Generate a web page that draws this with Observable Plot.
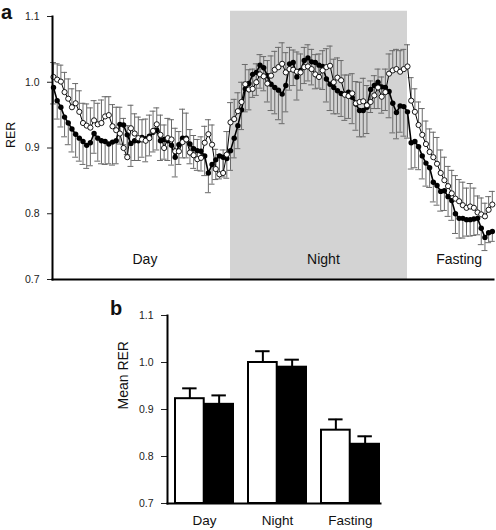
<!DOCTYPE html>
<html><head><meta charset="utf-8">
<script src="https://cdn.jsdelivr.net/npm/d3@7"></script>
<script src="https://cdn.jsdelivr.net/npm/@observablehq/plot@0.6"></script>
<style>
html,body{margin:0;padding:0;background:#fff;}
#wrap{position:relative;width:496px;height:530px;font-family:"Liberation Sans",Arial,Helvetica,sans-serif;color:#111;}
#pa{position:absolute;left:0;top:0;}
#pb{position:absolute;left:0;top:290px;}
.lbl{position:absolute;font-weight:bold;font-size:20px;line-height:12px;}
</style></head><body>
<div id="wrap"><div id="pa"></div><div id="pb"></div>
<div class="lbl" style="left:1px;top:5.5px">a</div>
<div class="lbl" style="left:110px;top:302px">b</div>
</div>
<script>
// ---------- Panel a data (15-min samples) ----------
const sampleHours = 0.25;
const openRER = [
1.008,1.004,1.001,0.985,0.975,0.962,0.968,0.955,0.938,0.934,0.931,0.942,0.936,0.938,0.948,0.950,0.933,0.927,0.922,0.900,
0.886,0.930,0.922,0.915,0.913,0.911,0.915,0.926,0.936,0.920,0.900,0.915,0.913,0.895,0.895,0.909,0.913,0.893,0.889,0.883,
0.885,0.908,0.921,0.905,0.868,0.860,0.862,0.890,0.939,0.944,0.956,0.970,0.997,0.989,0.990,1.000,1.012,1.009,0.998,1.010,
1.019,1.023,1.028,1.015,1.020,1.019,1.016,1.015,1.023,1.024,1.020,1.012,1.008,1.018,1.023,1.025,1.000,1.007,1.003,0.981,
0.979,0.983,0.968,0.970,0.971,0.965,0.970,0.980,0.992,0.978,0.985,1.013,1.018,1.020,1.016,1.020,1.024,0.972,0.955,0.935,
0.920,0.906,0.894,0.886,0.876,0.862,0.851,0.842,0.831,0.823,0.819,0.813,0.809,0.811,0.809,0.802,0.799,0.796,0.806,0.814];
const filledRER = [
0.992,0.972,0.962,0.947,0.938,0.929,0.921,0.915,0.910,0.904,0.908,0.922,0.915,0.911,0.910,0.906,0.909,0.911,0.936,0.935,
0.920,0.907,0.911,0.911,0.916,0.914,0.918,0.924,0.927,0.911,0.913,0.911,0.904,0.886,0.905,0.915,0.915,0.906,0.899,0.896,
0.895,0.888,0.862,0.875,0.882,0.888,0.886,0.884,0.896,0.915,0.934,0.958,0.990,0.998,1.012,1.015,1.026,1.022,1.010,0.997,
0.992,0.988,0.982,0.995,1.028,1.030,1.008,1.018,1.033,1.037,1.031,1.030,1.026,1.024,1.005,0.997,0.992,0.987,0.983,0.982,
0.985,0.977,0.967,0.957,0.957,0.962,0.989,0.995,1.000,0.993,0.992,0.986,0.968,0.954,0.964,0.963,0.955,0.908,0.910,0.902,
0.888,0.877,0.870,0.848,0.843,0.834,0.835,0.826,0.820,0.800,0.793,0.793,0.791,0.791,0.792,0.793,0.778,0.764,0.771,0.773];
const openSEM = [
0.022,0.024,0.025,0.030,0.030,0.028,0.030,0.032,0.030,0.033,0.030,0.030,0.032,0.035,0.030,0.028,0.033,0.035,0.040,0.045,
0.048,0.035,0.030,0.032,0.030,0.033,0.035,0.030,0.025,0.030,0.035,0.030,0.030,0.035,0.030,0.050,0.040,0.035,0.030,0.030,
0.032,0.025,0.022,0.030,0.030,0.030,0.035,0.035,0.030,0.030,0.028,0.030,0.030,0.030,0.030,0.028,0.030,0.030,0.035,0.030,
0.028,0.030,0.032,0.030,0.033,0.030,0.030,0.028,0.030,0.033,0.030,0.030,0.035,0.030,0.028,0.030,0.035,0.030,0.030,0.030,
0.032,0.030,0.033,0.030,0.035,0.030,0.032,0.030,0.028,0.030,0.035,0.030,0.030,0.030,0.032,0.030,0.033,0.035,0.035,0.035,
0.040,0.035,0.035,0.038,0.040,0.035,0.035,0.030,0.035,0.035,0.033,0.035,0.030,0.035,0.030,0.025,0.025,0.020,0.020,0.020];
const filledSEM = [
0.025,0.028,0.030,0.030,0.033,0.035,0.035,0.035,0.035,0.035,0.035,0.030,0.035,0.035,0.035,0.030,0.035,0.035,0.030,0.030,
0.030,0.035,0.030,0.030,0.030,0.035,0.030,0.030,0.030,0.030,0.030,0.030,0.030,0.030,0.030,0.030,0.030,0.030,0.030,0.030,
0.030,0.030,0.030,0.030,0.030,0.035,0.030,0.030,0.030,0.030,0.035,0.030,0.035,0.040,0.035,0.035,0.035,0.035,0.040,0.040,
0.040,0.045,0.045,0.040,0.040,0.035,0.035,0.030,0.035,0.035,0.035,0.040,0.035,0.035,0.035,0.040,0.040,0.035,0.035,0.040,
0.040,0.040,0.040,0.040,0.040,0.040,0.035,0.035,0.040,0.040,0.035,0.040,0.045,0.040,0.040,0.045,0.040,0.040,0.040,0.035,
0.035,0.035,0.030,0.030,0.030,0.030,0.030,0.030,0.030,0.030,0.030,0.030,0.025,0.025,0.025,0.025,0.025,0.020,0.015,0.015];
const periods = [
  {name:"Day", start:0, end:12, labelAt:6.2},
  {name:"Night", start:12, end:24, labelAt:18.3},
  {name:"Fasting", start:24, end:30, labelAt:27.5}
];
const shadedPeriod = "Night";
const yTicksA = [0.7, 0.8, 0.9, 1.0, 1.1];
const yLabelA = "RER";

// ---------- Panel b data ----------
const barCategories = ["Day", "Night", "Fasting"];
const meanOpen = [0.923, 1.000, 0.856];
const meanFilled = [0.911, 0.990, 0.826];
const semMeanOpen = [0.022, 0.024, 0.023];
const semMeanFilled = [0.019, 0.016, 0.017];
const yTicksB = [0.7, 0.8, 0.9, 1.0, 1.1];
const yLabelB = "Mean RER";

const FONT = '"Liberation Sans", Arial, Helvetica, sans-serif';

// ---------- Panel a ----------
const rows = openRER.map((v, i) => ({
  t: i * sampleHours, open: v, filled: filledRER[i], eo: openSEM[i], ef: filledSEM[i]
}));
const xDom = [-0.068, 29.83];
const capHalf = 0.2;
const errColor = "#6a6a6a";
const plotA = Plot.plot({
  width: 496, height: 284,
  marginLeft: 52, marginRight: 3, marginTop: 16, marginBottom: 5,
  style: {fontFamily: FONT, fontSize: "10.5px", color: "#222", background: "white"},
  x: {domain: xDom, axis: null},
  y: {domain: [0.7, 1.1], ticks: yTicksA, tickFormat: ".1f", tickSize: 5, tickPadding: 8, label: null},
  marks: [
    Plot.rect(periods.filter(p => p.name === shadedPeriod), {x1: "start", x2: "end", y1: 0.7, y2: 1.108, fill: "#d3d3d3"}),
    Plot.ruleX(rows, {x: "t", y1: "open", y2: d => d.open + d.eo, stroke: errColor, strokeWidth: 1}),
    Plot.ruleY(rows, {y: d => d.open + d.eo, x1: d => d.t - capHalf, x2: d => d.t + capHalf, stroke: errColor, strokeWidth: 1}),
    Plot.ruleX(rows, {x: "t", y1: "filled", y2: d => d.filled - d.ef, stroke: errColor, strokeWidth: 1}),
    Plot.ruleY(rows, {y: d => d.filled - d.ef, x1: d => d.t - capHalf, x2: d => d.t + capHalf, stroke: errColor, strokeWidth: 1}),
    Plot.line(rows, {x: "t", y: "open", stroke: "black", strokeWidth: 1}),
    Plot.line(rows, {x: "t", y: "filled", stroke: "black", strokeWidth: 1.6}),
    Plot.dot(rows, {x: "t", y: "filled", r: 2.7, fill: "black"}),
    Plot.dot(rows, {x: "t", y: "open", r: 2.6, fill: "white", stroke: "black", strokeWidth: 0.9}),
    Plot.text(periods, {x: "labelAt", y: 0.73, text: "name", fontSize: 14, fill: "#111"}),
    Plot.text([yLabelA], {text: d => d, frameAnchor: "left", rotate: -90, dx: -42, fontSize: 12.5, fill: "#111"}),
    Plot.frame({anchor: "left", stroke: "black", strokeWidth: 2}),
    Plot.frame({anchor: "bottom", stroke: "black", strokeWidth: 2})
  ]
});
document.getElementById("pa").appendChild(plotA);

// ---------- Panel b ----------
const rowsB = barCategories.map((c, i) => ({
  name: c, open: meanOpen[i], filled: meanFilled[i], eo: semMeanOpen[i], ef: semMeanFilled[i]
}));
const bMarginLeft = 167, bMarginRight = 116;
const pInner = 0.2, pOuter = 0.055;
const bw = (496 - bMarginLeft - bMarginRight) / (barCategories.length - pInner + 2 * pOuter) * (1 - pInner);
const half = bw / 2;
const capW = 15;
const capIn = half / 2 - capW / 2;
const plotB = Plot.plot({
  width: 496, height: 240,
  marginLeft: bMarginLeft, marginRight: bMarginRight, marginTop: 25, marginBottom: 27,
  style: {fontFamily: FONT, fontSize: "10.5px", color: "#222", background: "white"},
  x: {domain: barCategories, paddingInner: pInner, paddingOuter: pOuter, align: 0.9, axis: null},
  y: {domain: [0.7, 1.1], ticks: yTicksB, tickFormat: ".1f", tickSize: 6, tickPadding: 8, label: null},
  marks: [
    Plot.barY(rowsB, {x: "name", y1: 0.7, y2: "open", insetRight: half, fill: "white", stroke: "black", strokeWidth: 2}),
    Plot.barY(rowsB, {x: "name", y1: 0.7, y2: "filled", insetLeft: half, fill: "black", stroke: "black", strokeWidth: 2}),
    Plot.ruleX(rowsB, {x: "name", y1: "open", y2: d => d.open + d.eo, dx: -half / 2, stroke: "black", strokeWidth: 2}),
    Plot.tickY(rowsB, {x: "name", y: d => d.open + d.eo, insetLeft: capIn, insetRight: bw - capIn - capW, stroke: "black", strokeWidth: 2}),
    Plot.ruleX(rowsB, {x: "name", y1: "filled", y2: d => d.filled + d.ef, dx: half / 2, stroke: "black", strokeWidth: 2}),
    Plot.tickY(rowsB, {x: "name", y: d => d.filled + d.ef, insetLeft: half + capIn, insetRight: capIn, stroke: "black", strokeWidth: 2}),
    Plot.text(rowsB, {x: "name", y: 0.7, text: "name", dy: 17, fontSize: 13.5, fill: "#111"}),
    Plot.text([yLabelB], {text: d => d, frameAnchor: "left", rotate: -90, dx: -44, fontSize: 14, fill: "#111"}),
    Plot.frame({anchor: "left", stroke: "black", strokeWidth: 2}),
    Plot.frame({anchor: "bottom", stroke: "black", strokeWidth: 2})
  ]
});
document.getElementById("pb").appendChild(plotB);
</script>
</body></html>
